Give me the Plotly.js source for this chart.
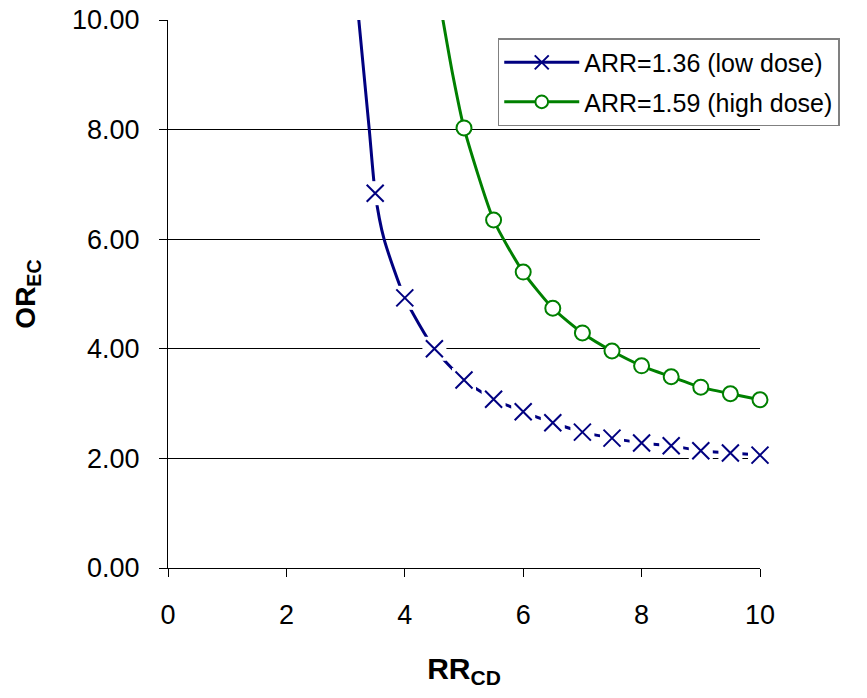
<!DOCTYPE html>
<html>
<head>
<meta charset="utf-8">
<script src="https://cdn.plot.ly/plotly-3.0.1.min.js"></script>
<style>html,body{margin:0;padding:0;background:#fff;}#chart{width:867px;height:698px;}</style>
</head>
<body>
<div id="chart"></div>
<script>
// Low dose (ARR=1.36): curve path (includes read points above first marker) and marker points
const lowCurveX = [3.21, 3.40, 3.5, 3.65, 4, 4.5, 5, 5.5, 6, 6.5, 7, 7.5, 8, 8.5, 9, 9.5, 10];
const lowCurveY = [10.15, 8.0, 6.84, 6.0, 4.93, 4.00, 3.43, 3.08, 2.85, 2.65, 2.48, 2.37, 2.28, 2.23, 2.14, 2.10, 2.06];
const lowMarkX = [3.5, 4, 4.5, 5, 5.5, 6, 6.5, 7, 7.5, 8, 8.5, 9, 9.5, 10];
const lowMarkY = [6.84, 4.93, 4.00, 3.43, 3.08, 2.85, 2.65, 2.48, 2.37, 2.28, 2.23, 2.14, 2.10, 2.06];

// High dose (ARR=1.59)
const highCurveX = [4.62, 4.81, 5, 5.5, 6, 6.5, 7, 7.5, 8, 8.5, 9, 9.5, 10];
const highCurveY = [10.15, 9.0, 8.03, 6.35, 5.40, 4.74, 4.29, 3.96, 3.69, 3.49, 3.30, 3.18, 3.07];
const highMarkX = [5, 5.5, 6, 6.5, 7, 7.5, 8, 8.5, 9, 9.5, 10];

const seriesNames = ["ARR=1.36 (low dose)", "ARR=1.59 (high dose)"];
const xTicks = [0, 2, 4, 6, 8, 10];
const yTicks = [0, 2, 4, 6, 8, 10];
const yTickText = ["0.00", "2.00", "4.00", "6.00", "8.00", "10.00"];

const navy = "#000080";
const green = "#008000";
const FONT = "Liberation Sans, Arial, sans-serif";

const lowSizes = lowCurveX.map(x => lowMarkX.includes(x) ? 17 : 0);
const highSizes = highCurveX.map(x => highMarkX.includes(x) ? 15 : 0);

const traces = [
  {
    x: lowCurveX, y: lowCurveY, name: seriesNames[0], mode: "lines+markers",
    legendgroup: "a",
    line: {color: navy, width: 3, shape: "spline", smoothing: 0.6},
    marker: {symbol: "x-thin-open", size: lowSizes, opacity: 1, color: navy, line: {color: navy, width: 2}},
    cliponaxis: false, hoverinfo: "skip"
  },
  {
    x: lowMarkX, y: lowMarkY, mode: "markers", showlegend: false, legendgroup: "a",
    marker: {symbol: "square", size: 24, opacity: 1, color: "#ffffff", line: {width: 0}},
    hoverinfo: "skip"
  },
  {
    x: lowMarkX, y: lowMarkY, mode: "markers", showlegend: false, legendgroup: "a",
    marker: {symbol: "x-thin-open", size: 17, opacity: 1, color: navy, line: {color: navy, width: 2}},
    hoverinfo: "skip"
  },
  {
    x: highCurveX, y: highCurveY, name: seriesNames[1], mode: "lines+markers",
    legendgroup: "b",
    line: {color: green, width: 3, shape: "spline", smoothing: 0.6},
    marker: {symbol: "circle", size: highSizes, opacity: 1, color: "#ffffff", line: {color: green, width: 2}},
    cliponaxis: false, hoverinfo: "skip"
  }
];

const layout = {
  width: 867, height: 698,
  margin: {l: 168, r: 107, t: 20, b: 130},
  paper_bgcolor: "#ffffff", plot_bgcolor: "#ffffff",
  font: {family: FONT, color: "#000000"},
  showlegend: true,
  legend: {
    x: 0.557, y: 0.967, xanchor: "left", yanchor: "top",
    bordercolor: "#808080", borderwidth: 1.5, bgcolor: "#ffffff",
    font: {family: FONT, size: 25, color: "#000000"},
    traceorder: "grouped", tracegroupgap: 4, itemwidth: 75
  },
  xaxis: {
    range: [0, 10], tickvals: xTicks, ticktext: xTicks.map(String),
    showgrid: false, zeroline: false,
    showline: true, linecolor: "#000000", linewidth: 1,
    ticks: "outside", ticklen: 8, tickcolor: "#000000", tickwidth: 1,
    ticklabelstandoff: 15,
    tickfont: {family: "Liberation Sans Narrow, Arial Narrow, " + FONT, size: 27, color: "#000000"},
    title: {text: "<b>RR<sub>CD</sub></b>", font: {family: FONT, size: 30, color: "#000000"}, standoff: 28},
    fixedrange: true
  },
  yaxis: {
    range: [0, 10], tickvals: yTicks, ticktext: yTickText,
    showgrid: true, gridcolor: "#000000", gridwidth: 1,
    zeroline: false,
    showline: true, linecolor: "#000000", linewidth: 1,
    ticks: "outside", ticklen: 8, tickcolor: "#000000", tickwidth: 1,
    ticklabelstandoff: 14,
    tickfont: {family: FONT, size: 27, color: "#000000"},
    title: {text: "<b>OR<sub>EC</sub></b>", font: {family: FONT, size: 28, color: "#000000"}, standoff: 28},
    fixedrange: true
  }
};

Plotly.newPlot("chart", traces, layout, {staticPlot: true, displayModeBar: false});
</script>
</body>
</html>
